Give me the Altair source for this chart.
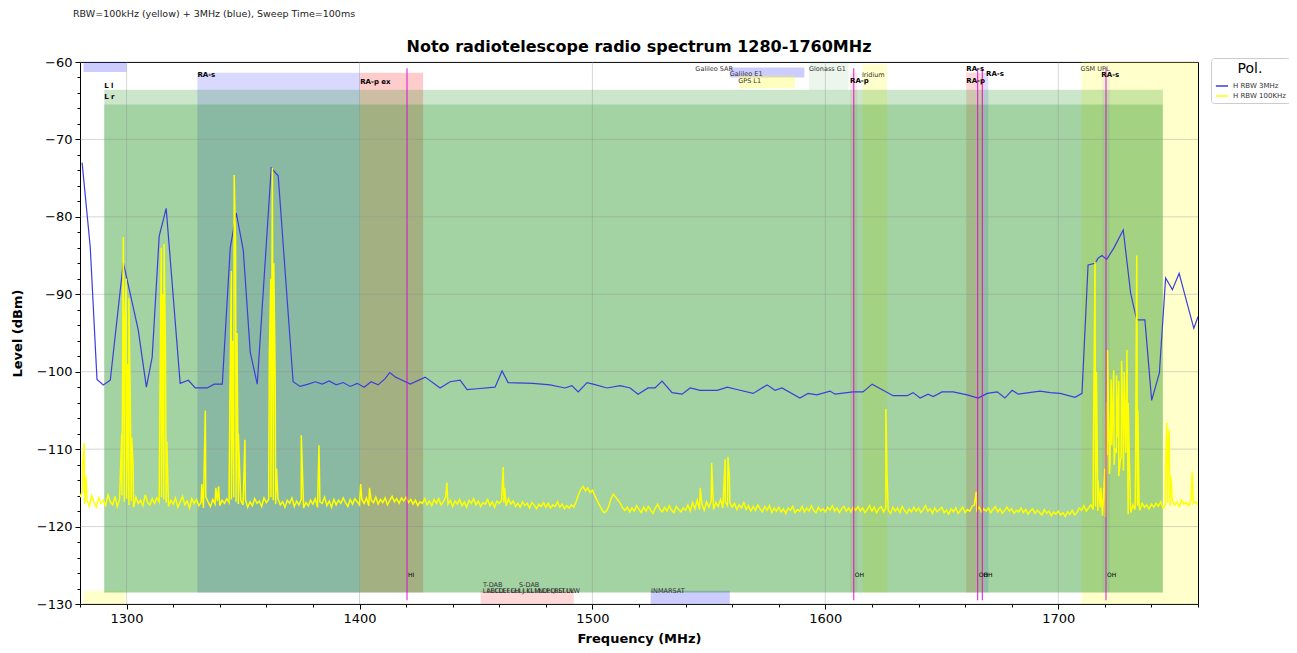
import altair as alt
import pandas as pd

FONT = "DejaVu Sans"
CAPTION = "RBW=100kHz (yellow) + 3MHz (blue), Sweep Time=100ms"
TITLE = "Noto radiotelescope radio spectrum 1280-1760MHz"
SERIES = ["H RBW 3MHz", "H RBW 100KHz"]

# ---------------- 3 MHz RBW trace (blue) ----------------
blue_freq = [1280.9, 1284.4, 1287.3, 1290.0, 1293.0, 1298.6, 1305.0, 1308.5, 1311.0, 1314.0,
             1317.0, 1323.0, 1326.5, 1329.5, 1334.6, 1337.6, 1341.1, 1344.5, 1347.1, 1350.1,
             1353.1, 1356.1, 1362.1, 1365.1, 1371.5, 1374.5, 1378.0, 1381.0, 1384.0, 1387.0,
             1390.0, 1393.0, 1396.0, 1399.0, 1402.0, 1405.0, 1408.0, 1411.0, 1413.0, 1415.5,
             1417.7, 1421.8, 1428.2, 1434.6, 1438.9, 1443.2, 1446.2, 1450.5, 1458.2, 1461.2,
             1463.8, 1474.5, 1481.8, 1488.2, 1491.2, 1493.9, 1497.7, 1500.3, 1506.3, 1511.9,
             1516.2, 1519.6, 1523.9, 1526.9, 1529.9, 1534.2, 1538.5, 1542.0, 1546.3, 1553.6,
             1557.9, 1562.0, 1569.0, 1575.0, 1578.4, 1581.4, 1589.1, 1592.6, 1596.4, 1602.0,
             1604.2, 1611.9, 1616.2, 1620.1, 1629.1, 1635.1, 1637.7, 1640.7, 1644.1, 1646.3,
             1650.1, 1654.9, 1660.9, 1665.6, 1669.5, 1673.8, 1677.1, 1680.2, 1682.8, 1692.2,
             1696.5, 1700.8, 1707.2, 1710.2, 1712.8, 1715.8, 1717.2, 1718.8, 1720.8, 1723.9,
             1727.9, 1731.1, 1733.7, 1737.2, 1740.1, 1743.4, 1746.1, 1749.0, 1751.9, 1758.2,
             1760.0]
blue_level = [-73.0, -83.9, -101.0, -101.7, -101.1, -85.9, -94.6, -102.0, -98.1, -82.5,
              -78.9, -101.5, -101.1, -102.1, -102.1, -101.6, -101.6, -84.0, -79.5, -84.3,
              -97.5, -101.6, -73.7, -74.7, -101.3, -101.9, -101.6, -101.3, -101.6, -101.2,
              -101.7, -101.4, -101.9, -101.5, -102.0, -101.3, -101.7, -100.9, -100.1, -100.7,
              -101.0, -101.6, -100.7, -102.1, -101.3, -101.1, -102.3, -102.2, -102.0, -99.9,
              -101.4, -101.5, -101.7, -102.1, -101.8, -102.6, -101.4, -101.6, -102.1, -101.8,
              -102.1, -102.9, -102.1, -102.1, -101.2, -102.7, -102.9, -102.1, -102.4, -102.4,
              -102.0, -102.3, -102.8, -101.7, -102.4, -102.1, -103.4, -102.8, -103.0, -102.5,
              -102.9, -102.6, -102.6, -101.6, -103.1, -103.1, -102.7, -103.4, -102.9, -103.2,
              -102.6, -102.6, -103.0, -103.4, -102.8, -102.6, -103.4, -102.4, -102.9, -102.5,
              -102.7, -102.8, -103.3, -102.8, -86.2, -86.0, -85.3, -85.0, -85.5, -84.0,
              -81.7, -89.9, -93.3, -93.3, -103.7, -100.2, -87.9, -89.4, -87.3, -94.4,
              -92.9]

# ---------------- 100 kHz RBW trace (yellow) ----------------
yellow_start_mhz = 1280
yellow_level_1mhz = [
    -116.2, -115.4, -117.1, -116.5, -117.4, -116.0, -116.9, -117.5, -116.3, -117.0,
    -116.6, -117.3, -115.9, -116.8, -117.2, -116.1, -117.4, -116.5, -116.0, -116.8,
    -116.4, -117.2, -116.7, -117.5, -116.2, -117.0, -116.6, -117.3, -115.9, -116.9,
    -117.2, -116.4, -117.0, -116.3, -116.8, -116.2, -116.5, -116.9, -117.4, -116.6,
    -117.1, -116.3, -117.5, -116.8, -116.1, -117.2, -116.7, -117.6, -116.4, -117.0,
    -116.5, -117.3, -116.9, -117.6, -116.2, -116.8, -117.4, -116.5, -117.1, -116.7,
    -117.3, -116.6, -117.0, -116.4, -116.9, -116.5, -116.2, -116.8, -117.1, -116.6,
    -117.2, -116.5, -117.5, -116.8, -117.3, -116.4, -117.0, -116.7, -117.4, -116.3,
    -116.9, -116.5, -116.2, -116.6, -117.1, -116.4, -117.2, -116.8, -117.5, -116.6,
    -117.0, -116.3, -117.4, -116.7, -117.2, -116.5, -117.6, -116.9, -117.3, -116.6,
    -117.1, -116.4, -117.5, -116.8, -117.0, -116.2, -117.3, -116.7, -117.5, -116.5,
    -117.2, -116.6, -117.0, -116.3, -116.9, -117.4, -116.5, -117.1, -116.4, -116.8,
    -117.2, -116.5, -117.0, -116.3, -117.3, -116.6, -116.9, -116.2, -117.1, -116.5,
    -116.9, -116.3, -117.2, -116.6, -116.1, -116.8, -116.4, -117.0, -116.3, -116.7,
    -116.2, -116.9, -116.5, -117.1, -116.6, -117.3, -116.8, -117.0, -116.4, -117.2,
    -116.7, -117.3, -116.5, -117.0, -116.4, -117.2, -116.8, -116.2, -117.1, -116.6,
    -117.4, -116.7, -117.1, -116.5, -117.3, -116.8, -117.5, -116.6, -117.0, -116.4,
    -117.2, -116.7, -117.4, -116.9, -117.1, -116.5, -117.3, -116.8, -117.5, -116.7,
    -117.0, -116.6, -116.9, -117.3, -116.4, -117.1, -116.7, -117.4, -117.0, -117.5,
    -116.8, -117.3, -117.0, -117.6, -116.9, -117.2, -117.7, -117.1, -117.4, -116.9,
    -117.5, -117.0, -117.6, -117.2, -117.4, -116.8, -117.5, -117.1, -117.7, -117.3,
    -117.6, -117.2, -117.5, -116.8, -115.9, -115.2, -114.8, -115.4, -115.0, -115.6,
    -115.3, -116.0, -116.6, -117.2, -117.8, -118.2, -118.0, -117.4, -116.4, -115.8,
    -116.2, -116.6, -117.0, -117.6, -117.9, -117.5, -118.1, -117.6, -118.0, -117.3,
    -117.8, -118.2, -117.5, -118.0, -117.4, -117.9, -118.3, -117.6, -117.1, -117.8,
    -118.1, -117.5, -118.0, -117.3, -117.9, -118.2, -117.4, -117.8, -118.1, -117.6,
    -117.9, -117.2, -118.0, -116.9, -117.7, -116.6, -117.8, -117.1, -117.9, -116.8,
    -117.5, -116.7, -117.8, -116.9, -117.4, -116.5, -117.6, -116.8, -117.3, -116.9,
    -117.5, -117.0, -117.8, -117.2, -117.6, -116.9, -117.8, -117.3, -118.0, -117.4,
    -117.9, -117.2, -117.7, -118.1, -117.4, -117.9, -117.3, -118.2, -117.6, -118.0,
    -117.5, -118.1, -117.7, -118.3, -117.6, -117.9, -117.4, -118.2, -117.8, -118.0,
    -117.4, -118.1, -117.6, -118.0, -117.3, -117.9, -118.2, -117.5, -118.0, -117.7,
    -118.1, -117.5, -117.9, -117.3, -118.0, -117.6, -118.2, -117.7, -117.4, -118.0,
    -117.6, -118.1, -117.5, -117.9, -117.4, -118.0, -117.6, -118.2, -117.8, -117.3,
    -118.0, -117.5, -118.2, -117.7, -117.4, -118.1, -117.6, -117.9, -118.3, -117.5,
    -118.0, -117.6, -118.2, -117.4, -117.9, -118.3, -117.7, -118.1, -117.5, -118.0,
    -117.6, -118.2, -117.8, -117.3, -118.0, -117.7, -118.3, -117.6, -118.1, -117.8,
    -117.5, -118.2, -117.9, -118.4, -117.7, -118.1, -117.6, -118.3, -117.9, -117.5,
    -118.2, -117.8, -118.0, -117.4, -117.2, -117.9, -117.5, -118.1, -117.7, -118.0,
    -117.6, -118.2, -117.8, -117.4, -118.1, -117.7, -118.3, -117.9, -117.5, -118.0,
    -117.7, -118.3, -117.9, -118.1, -117.6, -118.2, -117.8, -118.4, -118.0, -117.7,
    -118.3, -117.9, -118.2, -118.5, -117.8, -118.3, -118.0, -118.6, -118.1, -118.4,
    -118.0, -118.5, -118.2, -118.7, -118.1, -118.4, -117.9, -118.5, -118.2, -117.6,
    -117.9, -117.3, -118.0, -117.6, -117.2, -117.8, -117.4, -118.0, -117.5, -118.6,
    -112.5, -110.8, -113.2, -109.5, -112.0, -110.3, -113.5, -111.0, -112.8, -110.5,
    -118.4, -117.6, -117.2, -117.8, -117.3, -117.9, -117.0, -117.5, -117.2, -117.7,
    -117.1, -117.5, -117.0, -117.4, -116.8, -117.6, -117.2, -116.9, -117.3, -116.7,
    -117.2, -116.8, -117.4, -116.6, -117.1, -116.9, -117.3, -116.5, -117.0, -116.8,
    -117.2,
]
spike_freq = [1281.2, 1281.8, 1282.5,
              1297.9, 1298.6, 1299.2, 1299.8, 1300.4, 1301.0, 1301.6, 1302.2, 1302.8,
              1314.3, 1314.9, 1315.5, 1316.1, 1316.7, 1317.3,
              1332.3, 1333.8, 1338.3, 1339.5,
              1344.4, 1345.0, 1345.6, 1346.2, 1346.8, 1347.4, 1348.0,
              1350.8,
              1361.3, 1361.9, 1362.6, 1363.2, 1363.8, 1364.4,
              1375.0, 1382.6, 1400.5, 1404.3, 1437.5, 1461.7, 1462.3,
              1546.3, 1551.2, 1557.0, 1558.2, 1558.8,
              1626.0, 1626.5, 1664.8,
              1715.1, 1715.8, 1716.4, 1717.0, 1718.3,
              1720.3, 1720.7, 1721.2, 1721.7, 1722.2, 1722.7, 1723.3, 1723.8, 1724.4, 1725.0,
              1725.5, 1726.0, 1726.6, 1727.2, 1727.7, 1728.3, 1728.9, 1729.5, 1730.0, 1730.6,
              1731.2,
              1733.2, 1733.7, 1734.2, 1734.7,
              1746.1, 1746.6, 1747.1, 1747.6, 1748.3, 1757.5]
spike_level = [-112.0, -109.2, -113.5,
               -108.0, -82.6, -96.0, -88.0, -99.0, -90.5, -104.0, -108.5, -112.0,
               -104.0, -84.0, -90.0, -83.5, -97.0, -109.0,
               -114.5, -105.0, -115.0, -114.8,
               -102.0, -87.0, -96.0, -74.6, -84.0, -95.0, -108.0,
               -108.8,
               -98.0, -88.0, -73.7, -86.0, -101.0, -112.5,
               -108.2, -109.5, -114.5, -115.0, -114.3, -112.3, -115.0,
               -115.0, -111.8, -111.3, -111.0, -113.5,
               -104.8, -113.5, -115.5,
               -110.0, -85.8, -100.0, -114.0, -115.0,
               -118.8, -104.0, -97.2, -108.0, -111.8, -101.0, -106.5, -99.8, -110.0, -100.5,
               -108.5, -101.2, -111.5, -98.6, -106.0, -100.0, -109.0, -97.2, -104.0, -112.0,
               -118.2,
               -112.0, -85.0, -105.0, -117.0,
               -112.0, -106.6, -110.0, -107.5, -113.5, -113.0]

# ---------------- allocation bands ----------------
band_f1 = [1281.5, 1281.5, 1330.4, 1400.3, 1452.0, 1525.0, 1559.0, 1563.0, 1593.0, 1610.6,
           1616.0, 1660.5, 1668.0, 1718.8, 1710.0, 1290.4, 1290.4]
band_f2 = [1300.0, 1299.5, 1400.3, 1427.3, 1492.0, 1559.0, 1591.0, 1587.0, 1610.0, 1613.8,
           1626.5, 1668.0, 1670.0, 1722.2, 1760.0, 1744.9, 1744.9]
band_top = [-60.0, -128.3, -61.4, -61.4, -128.3, -128.3, -60.7, -61.7, -60.0, -61.4,
            -60.3, -61.4, -61.4, -61.4, -60.0, -63.6, -65.5]
band_bottom = [-61.3, -130.0, -128.5, -128.5, -130.0, -130.0, -62.0, -63.4, -63.6, -128.5,
               -128.5, -128.5, -128.5, -128.5, -130.0, -128.5, -128.5]
band_color = ["#0000ff", "#ffff00", "#0000ff", "#ff0000", "#ff0000", "#0000ff", "#0000ff",
              "#ffff00", "#008000", "#ff0000", "#ffff00", "#ff0000", "#0000ff", "#0000ff",
              "#ffff00", "#008000", "#008000"]
band_alpha = [0.2, 0.2, 0.15, 0.2, 0.15, 0.2, 0.2, 0.25, 0.07, 0.08,
              0.2, 0.15, 0.12, 0.06, 0.2, 0.2, 0.2]

# spectral lines (HI, OH)
line_freq = [1420.4, 1612.2, 1665.4, 1667.4, 1720.5]
line_name = ["HI", "OH", "OH", "OH", "OH"]

# labels
bold_text = ["L l", "L r", "RA-s", "RA-p ex", "RA-p", "RA-s", "RA-p", "RA-s", "RA-s"]
bold_freq = [1290.4, 1290.4, 1330.4, 1400.3, 1610.6, 1660.5, 1660.5, 1669.0, 1718.5]
bold_level = [-63.1, -64.5, -61.7, -62.6, -62.5, -60.9, -62.5, -61.6, -61.7]

norm_text = ["Galileo SAR", "Galileo E1", "GPS L1", "Glonass G1", "Iridium", "GSM UPL",
             "T-DAB", "S-DAB", "INMARSAT"]
norm_freq = [1544.2, 1559.0, 1562.6, 1593.0, 1615.7, 1709.5, 1453.0, 1468.5, 1525.2]
norm_level = [-60.9, -61.5, -62.4, -60.9, -61.7, -60.9, -127.6, -127.6, -128.35]

dab_text = ["LA", "LB", "LC", "LD", "LE", "LF", "LG", "LH", "LI", "LJ", "LK", "LL",
            "LM", "LN", "LO", "LP", "LQ", "LR", "LS", "LT", "LU", "LV", "LW"]
dab_freq = [1452.960, 1454.672, 1456.384, 1458.096, 1459.808, 1461.520, 1463.232,
            1464.944, 1466.656, 1468.368, 1470.080, 1471.792, 1473.504, 1475.216,
            1476.928, 1478.640, 1480.352, 1482.064, 1483.776, 1485.488, 1487.200,
            1488.912, 1490.624]
dab_level = [-128.35] * len(dab_text)

x_major = [1300, 1400, 1500, 1600, 1700]
y_major = [-60, -70, -80, -90, -100, -110, -120, -130]
x_ticks = list(range(1280, 1761, 20))
y_ticks = list(range(-130, -59, 2))

# ---------------- tables ----------------
blue_df = pd.DataFrame({"f": blue_freq, "v": blue_level, "series": SERIES[0]})
yb_df = pd.DataFrame({"f": [yellow_start_mhz + i for i in range(len(yellow_level_1mhz))],
                      "v": yellow_level_1mhz})
ys_df = pd.DataFrame({"f": spike_freq, "v": spike_level})
yellow_df = pd.concat([yb_df, ys_df]).sort_values("f").reset_index(drop=True)
yellow_df["series"] = SERIES[1]

bands_df = pd.DataFrame({"f1": band_f1, "f2": band_f2, "v1": band_top, "v2": band_bottom,
                         "c": band_color, "a": band_alpha})
lines_df = pd.DataFrame({"f": line_freq, "name": line_name, "top": -60.8, "bot": -129.5,
                         "lab": -126.3})
bold_df = pd.DataFrame({"t": bold_text, "f": bold_freq, "v": bold_level})
norm_df = pd.DataFrame({"t": norm_text + dab_text, "f": norm_freq + dab_freq,
                        "v": norm_level + dab_level})
gx_df = pd.DataFrame({"f": x_major})
gy_df = pd.DataFrame({"v": y_major})

xscale = alt.Scale(domain=[1280, 1760], nice=False, zero=False)
yscale = alt.Scale(domain=[-130, -60], nice=False, zero=False)

x_axis = alt.Axis(
    title="Frequency (MHz)", values=x_ticks, format="d", grid=False, labelOverlap=False,
    labelExpr="datum.value % 100 === 0 ? datum.label : ''",
    tickSize={"condition": {"test": "datum.value % 100 === 0", "value": 5}, "value": 3},
    labelPadding=3, titlePadding=7,
)
y_axis = alt.Axis(
    title="Level (dBm)", values=y_ticks, format="d", grid=False, labelOverlap=False,
    labelExpr="datum.value % 10 === 0 ? replace(datum.label, '-', '\u2212') : ''",
    tickSize={"condition": {"test": "datum.value % 10 === 0", "value": 5}, "value": 3},
    labelPadding=3, titlePadding=12,
)


def X(field):
    return alt.X(field, type="quantitative", scale=xscale, axis=x_axis)


def Y(field):
    return alt.Y(field, type="quantitative", scale=yscale, axis=y_axis)


series_color = alt.Color(
    "series:N",
    scale=alt.Scale(domain=SERIES, range=["#3d3ddb", "#ffff00"]),
    legend=alt.Legend(
        title="Pol.", orient="none", legendX=1131, legendY=-4,
        titleFontSize=14, titleFontWeight="normal", titleFont=FONT, titleAnchor="middle",
        titleColor="black", labelFontSize=7, labelFont=FONT, labelColor="#333333",
        symbolType="stroke", symbolSize=150, symbolStrokeWidth=1.5,
        strokeColor="#cccccc", fillColor="white", padding=4, cornerRadius=3,
        rowPadding=0, titlePadding=3, labelOffset=4,
    ),
)

bands = alt.Chart(bands_df).mark_rect().encode(
    x=X("f1"), x2="f2", y=Y("v1"), y2="v2",
    color=alt.Color("c:N", scale=None), opacity=alt.Opacity("a:Q", scale=None),
)

grid_x = alt.Chart(gx_df).mark_rule(color="#8c8c8c", strokeWidth=0.8, opacity=0.45).encode(
    x=X("f"))
grid_y = alt.Chart(gy_df).mark_rule(color="#8c8c8c", strokeWidth=0.8, opacity=0.45).encode(
    y=Y("v"))

blue_line = alt.Chart(blue_df).mark_line(strokeWidth=1.2, clip=True).encode(
    x=X("f"), y=Y("v"), color=series_color)
yellow_line = alt.Chart(yellow_df).mark_line(strokeWidth=1.5, clip=True).encode(
    x=X("f"), y=Y("v"), color=series_color)

rules = alt.Chart(lines_df).mark_rule(color="#e000e0", strokeWidth=1.1, opacity=0.85).encode(
    x=X("f"), y=Y("top"), y2="bot")
rule_labels = alt.Chart(lines_df).mark_text(
    align="left", baseline="middle", font=FONT, fontSize=6, color="black", dx=1).encode(
    x=X("f"), y=Y("lab"), text="name:N")

bold_labels = alt.Chart(bold_df).mark_text(
    align="left", baseline="middle", font=FONT, fontSize=7, fontWeight="bold",
    color="black").encode(x=X("f"), y=Y("v"), text="t:N")
norm_labels = alt.Chart(norm_df).mark_text(
    align="left", baseline="middle", font=FONT, fontSize=6.5,
    color="#333333").encode(x=X("f"), y=Y("v"), text="t:N")

caption = alt.Chart(pd.DataFrame({"t": [CAPTION]})).mark_text(
    align="left", baseline="middle", font=FONT, fontSize=9.5, color="#222222").encode(
    x=alt.value(-7), y=alt.value(-48), text="t:N")

title_text = alt.Chart(pd.DataFrame({"t": [TITLE]})).mark_text(
    align="center", baseline="middle", font=FONT, fontSize=16, fontWeight="bold",
    color="black").encode(x=alt.value(559), y=alt.value(-15), text="t:N")

chart = alt.layer(
    bands, grid_x, grid_y, blue_line, yellow_line, rules, rule_labels, bold_labels,
    norm_labels, caption, title_text
).properties(
    width=1118, height=542,
    autosize=alt.AutoSizeParams(type="none"),
    padding={"left": 72, "top": 54, "right": 91, "bottom": 43},
).configure_view(
    stroke="black", strokeWidth=1,
).configure_axis(
    domainColor="black", tickColor="black", labelColor="black", titleColor="black",
    labelFont=FONT, titleFont=FONT, labelFontSize=13, titleFontSize=13,
    titleFontWeight="bold", domainWidth=1, tickWidth=1,
)

chart.save("out.html", embed_options={"renderer": "svg", "actions": False})
